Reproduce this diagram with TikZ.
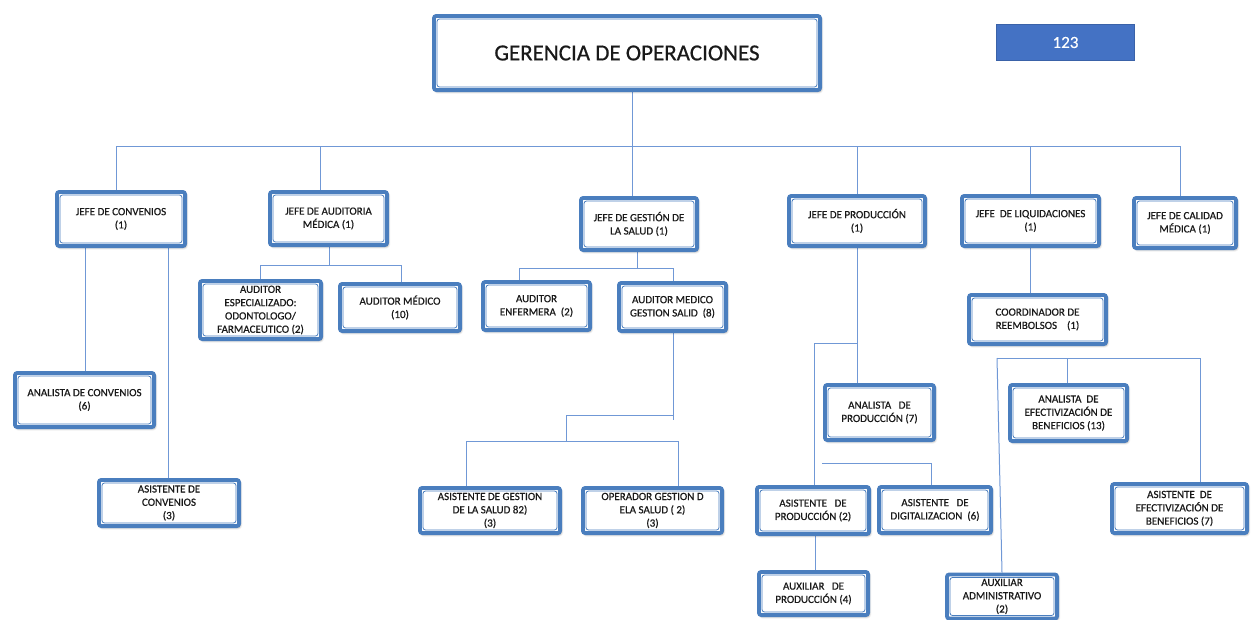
\documentclass[tikz,border=0pt]{standalone}
\usepackage{fontspec}
\setmainfont{Carlito}[FakeBold=0.25]
\newfontfamily\labelfont{Carlito}[AutoFakeBold=0.6]
\usetikzlibrary{shadows.blur,backgrounds}
\definecolor{boxblue}{RGB}{74,126,190}
\definecolor{linkblue}{RGB}{112,152,214}
\definecolor{badgeblue}{RGB}{68,114,196}
\definecolor{badgeedge}{RGB}{58,98,168}
\definecolor{ink}{RGB}{25,25,25}

\begin{document}
\begin{tikzpicture}[x=1pt,y=-1pt,
  orgbox/.style={draw=boxblue, line width=3.8pt, fill=white, rounded corners=2.5pt,
    inner sep=0pt, align=center, text=ink,
    font=\labelfont\bfseries\fontsize{11}{13.3}\selectfont,
    blur shadow={shadow xshift=1.2pt, shadow yshift=-1.6pt, shadow blur steps=6,
      shadow blur radius=2.2pt, shadow opacity=40},
    path picture={\draw[boxblue, line width=0.8pt]
      ([shift={(3.1pt,-3.1pt)}]path picture bounding box.north west) rectangle
      ([shift={(-3.1pt,3.1pt)}]path picture bounding box.south east);}},
  badge/.style={fill=badgeblue, draw=badgeedge, line width=0.6pt, inner sep=0pt,
    text=white, font=\fontsize{17}{20}\selectfont},
  link/.style={draw=linkblue, line width=1pt},
]
\useasboundingbox (0,0) rectangle (1255,619);

% --- head
\node[orgbox, minimum width=386.2, minimum height=74.2,
  font=\labelfont\bfseries\fontsize{23}{27}\selectfont]
  (title) at (627,53) {GERENCIA DE OPERACIONES};
\node[badge, minimum width=138, minimum height=36] (badge) at (1065.5,42.5) {123};

% --- first level
\node[orgbox, minimum width=128.2, minimum height=54.2] (jconv) at (121,219)
  {JEFE DE CONVENIOS\\(1)};
\node[orgbox, minimum width=117.2, minimum height=53.2] (jaud) at (328.5,218.5)
  {JEFE DE AUDITORIA\\MÉDICA (1)};
\node[orgbox, minimum width=116.2, minimum height=52.2] (jges) at (639,224)
  {JEFE DE GESTIÓN DE\\LA SALUD (1)};
\node[orgbox, minimum width=136.2, minimum height=50.2] (jprod) at (857,221)
  {JEFE DE PRODUCCIÓN\\(1)};
\node[orgbox, minimum width=137.2, minimum height=50.2] (jliq) at (1030.5,221)
  {JEFE\ \ DE LIQUIDACIONES\\(1)};
\node[orgbox, minimum width=102.2, minimum height=50.2] (jcal) at (1185,223)
  {JEFE DE CALIDAD\\MÉDICA (1)};

% --- auditoria
\node[orgbox, minimum width=121.2, minimum height=58.2] (audesp) at (260.5,310)
  {AUDITOR\\ESPECIALIZADO:\\ODONTOLOGO/\\FARMACEUTICO (2)};
\node[orgbox, minimum width=120.2, minimum height=47.2] (audmed) at (400,307.5)
  {AUDITOR MÉDICO\\(10)};

% --- gestion de la salud
\node[orgbox, minimum width=107.2, minimum height=48.2] (audenf) at (536.5,306)
  {AUDITOR\\ENFERMERA\ \ (2)};
\node[orgbox, minimum width=107.2, minimum height=48.2] (audgs) at (672.5,307)
  {AUDITOR MEDICO\\GESTION SALID\ \ (8)};
\node[orgbox, minimum width=140.2, minimum height=45.2] (asgs) at (490,510.5)
  {ASISTENTE DE GESTION\\DE LA SALUD 82)\\(3)};
\node[orgbox, minimum width=139.2, minimum height=45.2] (opgs) at (652.5,510.5)
  {OPERADOR GESTION D\\ELA SALUD ( 2)\\(3)};

% --- convenios
\node[orgbox, minimum width=139.2, minimum height=54.2] (anconv) at (84.5,400)
  {ANALISTA DE CONVENIOS\\(6)};
\node[orgbox, minimum width=140.2, minimum height=46.2] (asconv) at (169,503)
  {ASISTENTE DE\\CONVENIOS\\(3)};

% --- produccion
\node[orgbox, minimum width=109.2, minimum height=55.2] (anprod) at (879.5,412.5)
  {ANALISTA\ \ \ DE\\PRODUCCIÓN (7)};
\node[orgbox, minimum width=112.2, minimum height=47.2] (asprod) at (813,510.5)
  {ASISTENTE\ \ \ DE\\PRODUCCIÓN (2)};
\node[orgbox, minimum width=112.2, minimum height=46.2] (asdig) at (935,510)
  {ASISTENTE\ \ \ DE\\DIGITALIZACION\ \ (6)};
\node[orgbox, minimum width=109.2, minimum height=43.2] (auxprod) at (813.5,593.5)
  {AUXILIAR\ \ \ DE\\PRODUCCIÓN (4)};

% --- liquidaciones
\node[orgbox, minimum width=137.2, minimum height=49.2] (coord) at (1037.5,319.5)
  {COORDINADOR DE\\REEMBOLSOS\ \ \ \ (1)};
\node[orgbox, minimum width=117.2, minimum height=56.2] (anef) at (1068.5,413)
  {ANALISTA\ \ DE\\EFECTIVIZACIÓN DE\\BENEFICIOS (13)};
\node[orgbox, minimum width=135.2, minimum height=49.2] (asef) at (1179.5,508.5)
  {ASISTENTE\ \ DE\\EFECTIVIZACIÓN DE\\BENEFICIOS (7)};
\node[orgbox, minimum width=110.2, minimum height=44.2] (auxadm) at (1002,596.5)
  {AUXILIAR\\ADMINISTRATIVO\\(2)};

% --- connectors, kept behind the boxes
\begin{pgfonlayer}{background}
  % main bus
  \coordinate (t0) at (632,0);
  \coordinate (busL) at (116,146);
  \coordinate (busR) at (1180,146);
  \coordinate (b2) at (320,146);
  \coordinate (b4) at (857,146);
  \coordinate (b5) at (1030,146);
  \draw[link] (t0 |- title.south) -- (t0 |- jges.north);
  \draw[link] (busL) -- (busR);
  \draw[link] (busL) -- (busL |- jconv.north);
  \draw[link] (b2) -- (b2 |- jaud.north);
  \draw[link] (b4) -- (b4 |- jprod.north);
  \draw[link] (b5) -- (b5 |- jliq.north);
  \draw[link] (busR) -- (busR |- jcal.north);

  % convenios
  \coordinate (c1) at (85,0);
  \coordinate (c2) at (168,0);
  \draw[link] (c1 |- jconv.south) -- (c1 |- anconv.north);
  \draw[link] (c2 |- jconv.south) -- (c2 |- asconv.north);

  % auditoria
  \coordinate (a0) at (329,265);
  \coordinate (aL) at (260,265);
  \coordinate (aR) at (401,265);
  \draw[link] (a0 |- jaud.south) -- (a0);
  \draw[link] (aL) -- (aR);
  \draw[link] (aL) -- (aL |- audesp.north);
  \draw[link] (aR) -- (aR |- audmed.north);

  % gestion de la salud
  \coordinate (g0) at (637,268);
  \coordinate (gL) at (519,268);
  \coordinate (gR) at (673,268);
  \draw[link] (g0 |- jges.south) -- (g0);
  \draw[link] (gL) -- (gR);
  \draw[link] (gL) -- (gL |- audenf.north);
  \draw[link] (gR) -- (gR |- audgs.north);
  \coordinate (h0) at (673,415);
  \coordinate (h1) at (566,415);
  \coordinate (h2) at (566,441);
  \coordinate (hL) at (466,441);
  \coordinate (hR) at (678,441);
  \draw[link] (h0 |- audgs.south) -- (673,420);
  \draw[link] (h0) -- (h1) -- (h2);
  \draw[link] (hL) -- (hR);
  \draw[link] (hL) -- (hL |- asgs.north);
  \draw[link] (hR) -- (hR |- opgs.north);

  % produccion
  \coordinate (p0) at (857,343);
  \coordinate (p1) at (814,343);
  \coordinate (p2) at (822,463);
  \coordinate (p3) at (931,463);
  \coordinate (p4) at (815,0);
  \draw[link] (p0 |- jprod.south) -- (p0 |- anprod.north);
  \draw[link] (p0) -- (p1) -- (p1 |- asprod.north);
  \draw[link] (p2) -- (p3) -- (p3 |- asdig.north);
  \draw[link] (p4 |- asprod.south) -- (p4 |- auxprod.north);

  % liquidaciones
  \coordinate (l0) at (1030,0);
  \coordinate (eL) at (997,358);
  \coordinate (eM) at (1067,358);
  \coordinate (eR) at (1200,358);
  \draw[link] (l0 |- jliq.south) -- (l0 |- coord.north);
  \draw[link] (eL) -- (eR);
  \draw[link] (eM) -- (eM |- anef.north);
  \draw[link] (eR) -- (eR |- asef.north);
  \draw[link] (eL) -- (auxadm.north);
\end{pgfonlayer}
\end{tikzpicture}
\end{document}
